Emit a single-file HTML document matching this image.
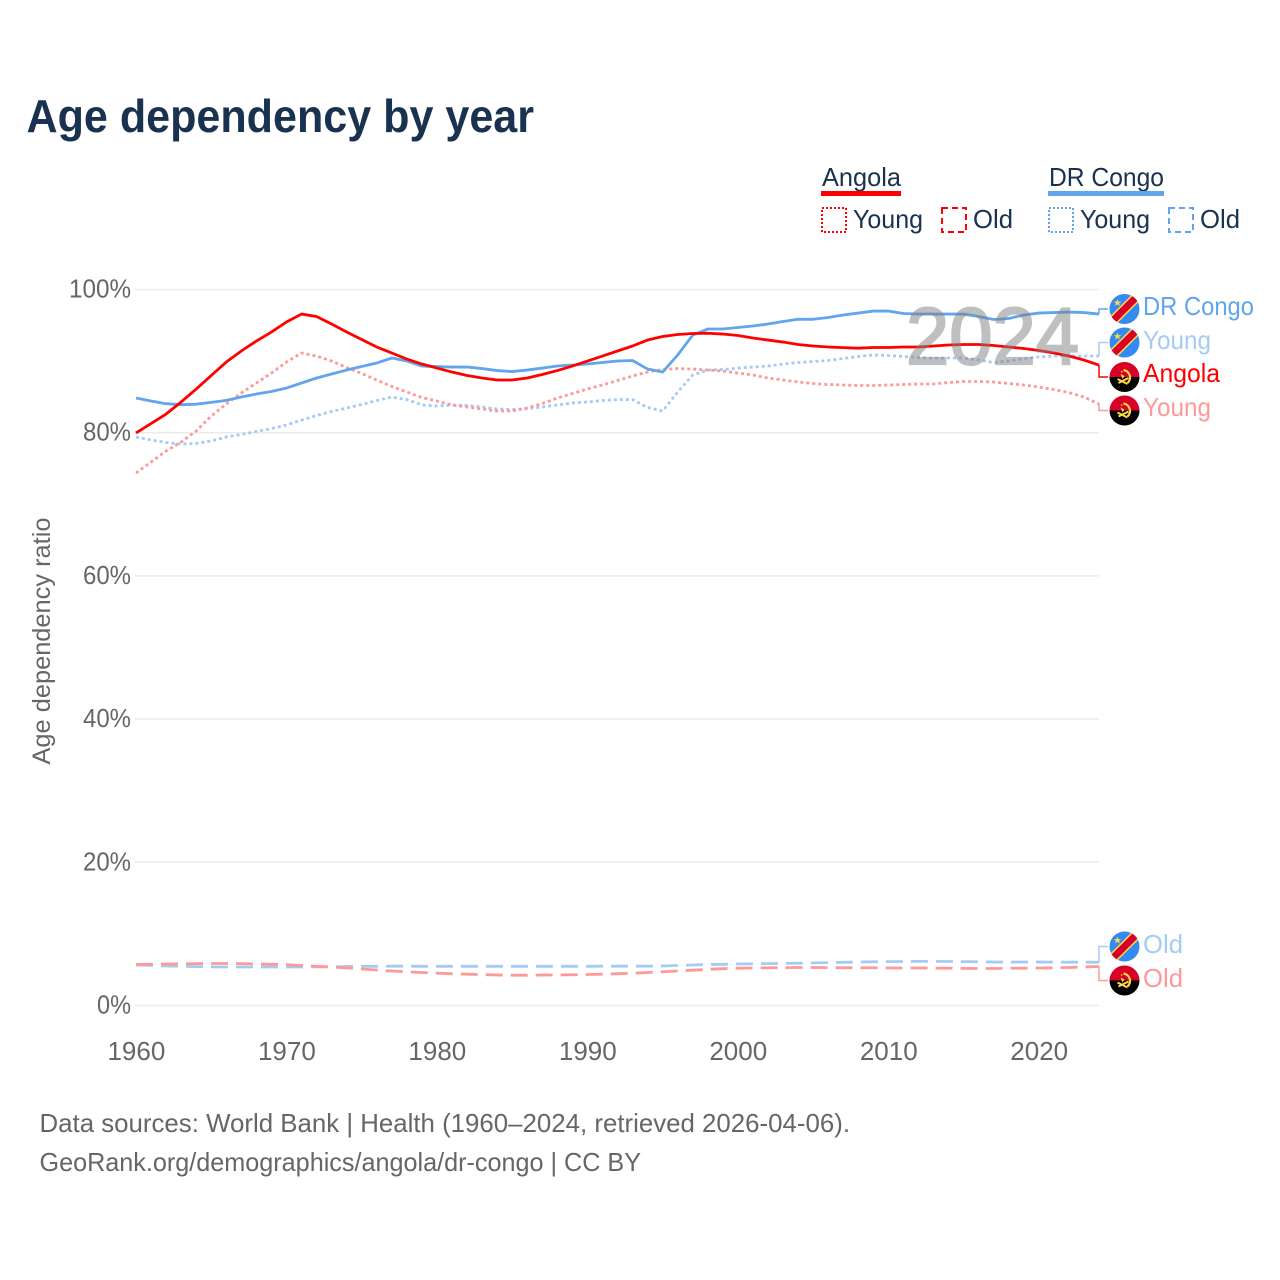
<!DOCTYPE html>
<html lang="en">
<head>
<meta charset="utf-8">
<title>Age dependency by year</title>
<style>
html,body{margin:0;padding:0;background:#fff;width:1280px;height:1280px;overflow:hidden}
svg{display:block}
text{font-family:"Liberation Sans",sans-serif}
</style>
</head>
<body>
<svg id="chart" width="1280" height="1280" viewBox="0 0 1280 1280" xmlns="http://www.w3.org/2000/svg">
  <defs>
    <clipPath id="flag-clip"><circle cx="0" cy="0" r="15"/></clipPath>
    <g id="flag-cd" clip-path="url(#flag-clip)">
      <rect x="-15" y="-15" width="30" height="30" fill="#338af3"/>
      <path d="M-20 20 L20 -20" stroke="#ffda44" stroke-width="10" fill="none"/>
      <path d="M-20 20 L20 -20" stroke="#d80027" stroke-width="7" fill="none"/>
      <path d="M-7 -10 L-6 -7.4 L-3.2 -7.4 L-5.4 -5.7 L-4.6 -3 L-7 -4.6 L-9.4 -3 L-8.6 -5.7 L-10.8 -7.4 L-8 -7.4 Z" fill="#ffda44"/>
    </g>
    <g id="flag-ao" clip-path="url(#flag-clip)">
      <rect x="-15" y="-15" width="30" height="15" fill="#d80027"/>
      <rect x="-15" y="0" width="30" height="15" fill="#000"/>
      <path d="M-1 -7 A7.5 7.5 0 0 1 3 6" fill="none" stroke="#ffda44" stroke-width="2.2"/>
      <path d="M-7 2 L3 7 M-6 6 L4 1" fill="none" stroke="#ffda44" stroke-width="2"/>
      <path d="M-4 -3 L0 -1 L-2 2 Z M-4 -6 L-2 -6 L-2.5 -4 Z" fill="#ffda44"/>
    </g>
  </defs>

  <text x="26.5" y="132" font-size="46" font-weight="700" fill="#18324f" textLength="507.5" lengthAdjust="spacingAndGlyphs">Age dependency by year</text>

  <g>
    <text x="822" y="186" font-size="26" fill="#18324f" textLength="79" lengthAdjust="spacingAndGlyphs">Angola</text>
    <rect x="821" y="191" width="80" height="5" fill="#ff0000"/>
    <rect x="822" y="208" width="24" height="24" fill="none" stroke="#ff0000" stroke-width="2" stroke-dasharray="2 2"/>
    <text x="853" y="228" font-size="26" fill="#18324f" textLength="70" lengthAdjust="spacingAndGlyphs">Young</text>
    <rect x="942" y="208" width="24" height="24" fill="none" stroke="#ff0000" stroke-width="2" stroke-dasharray="6 4"/>
    <text x="973" y="228" font-size="26" fill="#18324f" textLength="40" lengthAdjust="spacingAndGlyphs">Old</text>

    <text x="1049" y="186" font-size="26" fill="#18324f" textLength="115" lengthAdjust="spacingAndGlyphs">DR Congo</text>
    <rect x="1048" y="191" width="116" height="5" fill="#60a5ee"/>
    <rect x="1049" y="208" width="24" height="24" fill="none" stroke="#60a5ee" stroke-width="2" stroke-dasharray="2 2"/>
    <text x="1080" y="228" font-size="26" fill="#18324f" textLength="70" lengthAdjust="spacingAndGlyphs">Young</text>
    <rect x="1169" y="208" width="24" height="24" fill="none" stroke="#60a5ee" stroke-width="2" stroke-dasharray="6 4"/>
    <text x="1200" y="228" font-size="26" fill="#18324f" textLength="40" lengthAdjust="spacingAndGlyphs">Old</text>
  </g>

  <g id="grid"></g>
  <g id="y-ticks"></g>
  <g id="x-ticks"></g>
  <text transform="translate(50 641) rotate(-90)" text-anchor="middle" font-size="25" fill="#666" textLength="247" lengthAdjust="spacingAndGlyphs">Age dependency ratio</text>

  <g id="series"></g>
  <g id="connectors"></g>

  <text x="906" y="364" font-size="81" fill="#808080" stroke="#808080" stroke-width="2.2" opacity="0.5" textLength="173" lengthAdjust="spacingAndGlyphs">2024</text>

  <g>
    <use href="#flag-cd" x="1124.5" y="309"/>
    <text x="1143" y="315" font-size="26" fill="#60a5ee" textLength="111" lengthAdjust="spacingAndGlyphs">DR Congo</text>
    <use href="#flag-cd" x="1124.5" y="342.5"/>
    <text x="1143" y="349" font-size="26" fill="#a5cbf5" textLength="68" lengthAdjust="spacingAndGlyphs">Young</text>
    <use href="#flag-ao" x="1124.5" y="377"/>
    <text x="1143" y="382" font-size="26" fill="#ff0000" textLength="77" lengthAdjust="spacingAndGlyphs">Angola</text>
    <use href="#flag-ao" x="1124.5" y="410.5"/>
    <text x="1143" y="416" font-size="26" fill="#ff9999" textLength="68" lengthAdjust="spacingAndGlyphs">Young</text>
    <use href="#flag-cd" x="1124.5" y="946.5"/>
    <text x="1143" y="953" font-size="26" fill="#a5cbf5" textLength="40" lengthAdjust="spacingAndGlyphs">Old</text>
    <use href="#flag-ao" x="1124.5" y="980.5"/>
    <text x="1143" y="987" font-size="26" fill="#ff9999" textLength="40" lengthAdjust="spacingAndGlyphs">Old</text>
  </g>

  <text x="39.5" y="1132" font-size="26" fill="#666" textLength="810.5" lengthAdjust="spacingAndGlyphs">Data sources: World Bank | Health (1960–2024, retrieved 2026-04-06).</text>
  <text x="39.5" y="1171" font-size="26" fill="#666" textLength="601.5" lengthAdjust="spacingAndGlyphs">GeoRank.org/demographics/angola/dr-congo | CC BY</text>
</svg>
<script>
const firstYear = 1960;
const lastYear = 2024;
const yTickValues = [0, 20, 40, 60, 80, 100];
const yTickLabels = ['0%', '20%', '40%', '60%', '80%', '100%'];
const xTickValues = [1960, 1970, 1980, 1990, 2000, 2010, 2020];
const xTickLabels = ['1960', '1970', '1980', '1990', '2000', '2010', '2020'];

const angolaTotal = [79.96,81.28,82.61,84.29,86.10,87.99,89.87,91.41,92.80,94.06,
95.46,96.57,96.23,95.18,94.06,93.01,91.97,91.13,90.29,89.59,
89.03,88.47,87.99,87.64,87.36,87.36,87.64,88.13,88.68,89.31,
90.01,90.71,91.41,92.11,92.94,93.43,93.71,93.85,93.89,93.78,
93.57,93.22,92.94,92.66,92.32,92.11,91.97,91.88,91.80,91.90,
91.90,91.97,91.97,92.11,92.25,92.32,92.32,92.18,91.97,91.76,
91.48,91.13,90.71,90.15,89.45];
const drCongoTotal = [84.84,84.42,84.05,83.91,83.98,84.24,84.52,84.98,85.40,85.75,
86.24,86.94,87.64,88.20,88.75,89.24,89.73,90.43,90.01,89.31,
89.24,89.17,89.17,88.96,88.68,88.54,88.75,89.03,89.31,89.45,
89.59,89.80,90.01,90.08,88.89,88.47,90.85,93.64,94.48,94.48,
94.69,94.90,95.18,95.53,95.84,95.84,96.09,96.44,96.71,96.99,
96.99,96.65,96.57,96.57,96.57,96.57,96.23,95.81,95.95,96.44,
96.71,96.78,96.85,96.78,96.57];
const angolaYoung = [74.37,75.91,77.44,78.70,80.24,82.33,84.01,85.54,86.94,88.33,
89.87,91.13,90.71,90.01,89.10,88.27,87.36,86.45,85.68,84.91,
84.42,83.87,83.59,83.31,83.03,83.03,83.45,84.07,84.84,85.47,
86.10,86.66,87.29,87.92,88.47,88.82,88.96,88.89,88.75,88.61,
88.33,88.05,87.64,87.36,87.08,86.87,86.73,86.66,86.59,86.59,
86.66,86.73,86.80,86.80,87.01,87.15,87.15,87.08,86.87,86.66,
86.38,86.03,85.61,84.98,84.01];
const drCongoYoung = [79.40,78.98,78.63,78.42,78.49,78.84,79.40,79.75,80.17,80.58,
81.07,81.77,82.40,82.96,83.45,83.94,84.49,84.98,84.63,83.87,
83.73,83.87,83.80,83.59,83.31,83.24,83.38,83.59,83.87,84.15,
84.29,84.49,84.63,84.63,83.52,83.03,85.68,88.05,88.75,88.82,
89.03,89.17,89.31,89.59,89.80,89.94,90.08,90.36,90.64,90.85,
90.78,90.64,90.50,90.43,90.43,90.43,90.15,89.80,90.01,90.36,
90.57,90.71,90.71,90.71,90.71];
const angolaOld = [5.73,5.75,5.80,5.82,5.85,5.87,5.87,5.84,5.80,5.75,
5.70,5.59,5.47,5.38,5.24,5.10,4.96,4.82,4.71,4.61,
4.51,4.43,4.37,4.32,4.26,4.23,4.23,4.25,4.26,4.29,
4.33,4.37,4.44,4.51,4.61,4.71,4.82,4.93,5.06,5.14,
5.21,5.24,5.27,5.29,5.31,5.31,5.29,5.28,5.27,5.27,
5.25,5.24,5.24,5.22,5.21,5.18,5.17,5.17,5.20,5.21,
5.24,5.27,5.31,5.38,5.45];
const drCongoOld = [5.66,5.59,5.52,5.47,5.43,5.40,5.38,5.38,5.38,5.38,
5.38,5.38,5.40,5.40,5.45,5.46,5.47,5.49,5.49,5.47,
5.47,5.47,5.47,5.47,5.47,5.47,5.47,5.47,5.47,5.47,
5.47,5.49,5.49,5.49,5.50,5.52,5.59,5.66,5.73,5.75,
5.80,5.82,5.85,5.88,5.91,5.95,5.99,6.03,6.07,6.10,
6.13,6.15,6.16,6.16,6.15,6.13,6.10,6.07,6.07,6.07,
6.07,6.06,6.05,6.05,6.03];

const NS = 'http://www.w3.org/2000/svg';
function xScale(year) { return 136 + (year - firstYear) * (1099 - 136) / (lastYear - firstYear); }
function yScale(value) { return 1005.5 - value * 7.16; }
function make(tag, attrs, parent) {
  const el = document.createElementNS(NS, tag);
  for (const k in attrs) el.setAttribute(k, attrs[k]);
  parent.appendChild(el);
  return el;
}

const gridGroup = document.getElementById('grid');
const yTickGroup = document.getElementById('y-ticks');
yTickValues.forEach(function (v, i) {
  const line = make('line', { x1: 135, x2: 1099, y1: yScale(v), y2: yScale(v), stroke: '#ebebeb', 'stroke-width': 1.5 }, gridGroup);
  
  
  const label = yTickLabels[i];
  const t = make('text', { x: 131, y: yScale(v) + 8, 'text-anchor': 'end', 'font-size': 26, fill: '#666', textLength: (label.length - 1) * 14 + 20, lengthAdjust: 'spacingAndGlyphs' }, yTickGroup);
  
  
  t.textContent = label;
});

const xTickGroup = document.getElementById('x-ticks');
xTickValues.forEach(function (v, i) {
  const t = make('text', { x: xScale(v) + 0.4, y: 1060, 'text-anchor': 'middle', 'font-size': 26, fill: '#666' }, xTickGroup);
  
  
  t.textContent = xTickLabels[i];
});

function linePath(values) {
  return values.map(function (v, i) {
    return (i ? 'L' : 'M') + xScale(firstYear + i).toFixed(2) + ' ' + yScale(v).toFixed(2);
  }).join(' ');
}

const seriesGroup = document.getElementById('series');
function drawSeries(values, color, dash, name) {
  const p = make('path', { d: linePath(values), fill: 'none', stroke: color, 'stroke-width': 2.8, 'stroke-linejoin': 'round' }, seriesGroup);
  if (dash) p.setAttribute('stroke-dasharray', dash);
  
  
}
drawSeries(drCongoOld, '#a5cbf5', '17 8', 'line-drcongo-old');
drawSeries(angolaOld, '#ff9999', '17 8', 'line-angola-old');
drawSeries(drCongoYoung, '#a5cbf5', '3 3', 'line-drcongo-young');
drawSeries(angolaYoung, '#ff9999', '3 3', 'line-angola-young');
drawSeries(drCongoTotal, '#60a5ee', null, 'line-drcongo-total');
drawSeries(angolaTotal, '#ff0000', null, 'line-angola-total');

const connectorGroup = document.getElementById('connectors');
function drawConnector(values, labelY, color, name) {
  const endY = yScale(values[values.length - 1]);
  const p = make('path', { d: 'M1099 ' + endY.toFixed(2) + ' V' + labelY + ' H1108', fill: 'none', stroke: color, 'stroke-width': 1.5 }, connectorGroup);
  
  
}
drawConnector(drCongoTotal, 309, '#60a5ee', 'connector-drcongo-total');
drawConnector(drCongoYoung, 342.5, '#a5cbf5', 'connector-drcongo-young');
drawConnector(angolaTotal, 377, '#ff0000', 'connector-angola-total');
drawConnector(angolaYoung, 410.5, '#ff9999', 'connector-angola-young');
drawConnector(drCongoOld, 946.5, '#a5cbf5', 'connector-drcongo-old');
drawConnector(angolaOld, 980.5, '#ff9999', 'connector-angola-old');
</script>
</body>
</html>
